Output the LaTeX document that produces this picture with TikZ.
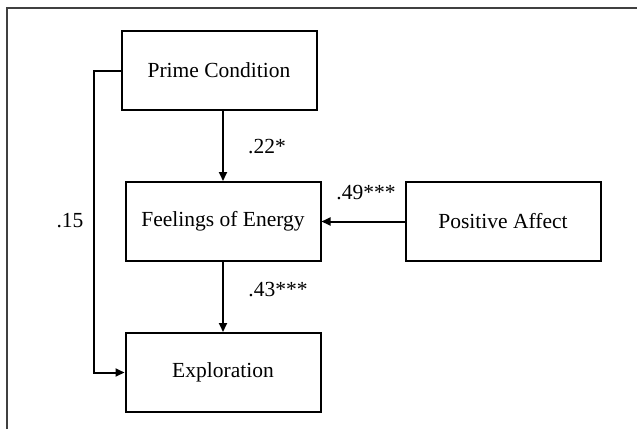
\documentclass[tikz,border=0pt]{standalone}
\usepackage{fontspec}
\setmainfont{Liberation Serif}
\usepackage{tikz}
\usetikzlibrary{arrows.meta}

\begin{document}
\begin{tikzpicture}[x=1pt,y=-1pt,
  box/.style={draw,line width=2pt,minimum width=195pt,minimum height=79pt,inner sep=0pt,font=\fontsize{21.5}{25}\selectfont},
  lab/.style={font=\fontsize{21.5}{25}\selectfont,inner sep=0pt},
  arr/.style={line width=2pt,-{Triangle[length=9pt,width=8pt]}}]
\useasboundingbox (0,0) rectangle (637,429);
\draw[line width=1.5pt,black!75] (7,429) -- (7,8) -- (637,8);
\node[box](prime)at(219,70.5){Prime Condition};
\node[box](energy)at(223,221.5){Feelings of Energy};
\node[box](explo)at(223,372.5){Exploration};
\node[box](affect)at(503,221.5){Positive Affect};
\draw[arr](prime.south-|energy.north)--(energy.north);
\draw[arr](energy)--(explo);
\draw[arr](affect)--(energy);
\draw[arr](prime.west)--++(-26.5,0)|-(explo.west);
\node[lab](l15)at(70,221){.15};
\node[lab](l22)at(267,147){.22*};
\node[lab](l43)at(278,290){.43***};
\node[lab](l49)at(366,193){.49***};
\end{tikzpicture}
\end{document}
